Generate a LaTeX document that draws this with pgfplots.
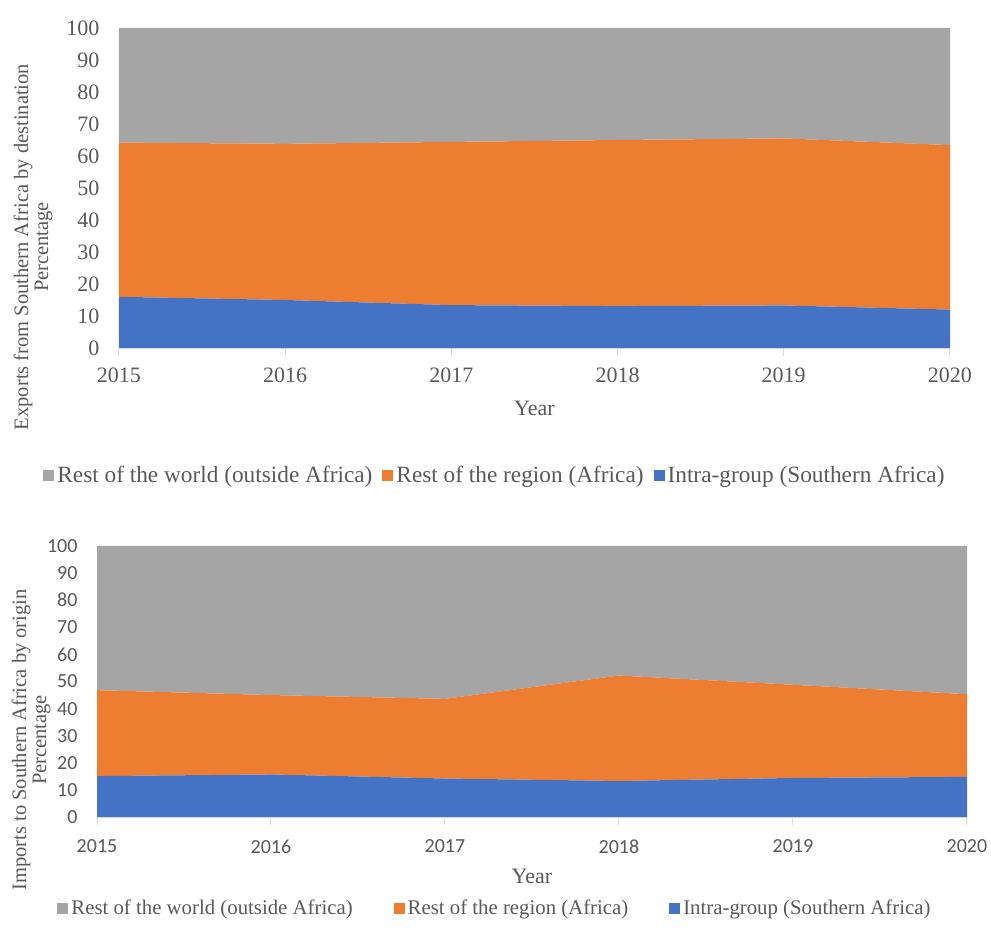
\documentclass[border=0pt]{standalone}
\usepackage{fontspec}
\setmainfont{Liberation Serif}
\newfontfamily\calibri{Carlito}
\usepackage{pgfplots}
\pgfplotsset{compat=1.18}
\usepackage{pgfplotstable}

\definecolor{txt}{HTML}{595959}
\definecolor{axl}{HTML}{D9D9D9}
\definecolor{cblue}{HTML}{4472C4}
\definecolor{corange}{HTML}{ED7D31}
\definecolor{cgrey}{HTML}{A5A5A5}

% Shares of exports by destination (percent)
\pgfplotstableread{
year intra region world
2015 16.0 48.2 35.8
2016 15.0 48.8 36.2
2017 13.4 51.0 35.6
2018 13.1 51.9 35.0
2019 13.3 52.2 34.5
2020 12.0 51.4 36.6
}\exports

% Shares of imports by origin (percent)
\pgfplotstableread{
year intra region world
2015 15.1 31.7 53.2
2016 15.7 29.3 55.0
2017 14.2 29.4 56.4
2018 13.3 38.9 47.8
2019 14.4 34.4 51.2
2020 14.8 30.5 54.7
}\imports

\pgfplotsset{
  sharearea/.style={
    scale only axis,
    stack plots=y,
    xmin=2015, xmax=2020, ymin=0, ymax=100,
    xtick={2015,...,2020},
    ytick={0,10,...,100},
    axis x line*=bottom, axis y line*=left,
    y axis line style={draw=none},
    x axis line style={draw=axl, line width=1.3pt},
    xtick style={draw=axl, line width=1pt},
    ytick style={draw=none},
    xtick align=outside,
    major tick length=8pt,
    tick label style={text=txt},
    /pgf/number format/1000 sep={},
    /pgf/number format/assume math mode=true,
    xlabel style={at={(rel axis cs:0.5,0)}, anchor=center, text=txt,
      font=\fontsize{22}{24}\selectfont},
    reverse legend,
    legend columns=3,
    legend cell align=left,
    legend image code/.code={\fill[##1] (0pt,-5.5pt) rectangle (11pt,5.5pt);},
    legend style={draw=none, fill=none, text=txt, anchor=center,
      nodes={inner xsep=3pt}},
  },
}

\begin{document}
\begin{tikzpicture}
\path[use as bounding box] (0,0) rectangle (991pt,945pt);

\begin{axis}[sharearea,
  at={(119pt,597pt)}, anchor=south west,
  width=831pt, height=320pt,
  tick label style={font=\fontsize{22}{24}\selectfont},
  yticklabel style={xshift=-16pt},
  xticklabel style={yshift=-8pt},
  xlabel={Year}, xlabel style={yshift=-60pt},
  legend style={at={(rel axis cs:0.453,-0.397)},
    font=\fontsize{23.3}{26}\selectfont,
    /tikz/every even column/.append style={column sep=7pt}},
]
\addplot[fill=cblue, draw=none] table[x=year, y=intra] {\exports} \closedcycle;
\addlegendentry{Intra-group (Southern Africa)}
\addplot[fill=corange, draw=none] table[x=year, y=region] {\exports} \closedcycle;
\addlegendentry{Rest of the region (Africa)}
\addplot[fill=cgrey, draw=none] table[x=year, y=world] {\exports} \closedcycle;
\addlegendentry{Rest of the world (outside Africa)}
\end{axis}

\node[rotate=90, align=center, text=txt, font=\fontsize{20.5}{20}\selectfont]
  at (33pt,698pt) {Exports from Southern Africa by destination\\Percentage};

\begin{axis}[sharearea,
  at={(97pt,128pt)}, anchor=south west,
  width=870pt, height=271pt,
  tick label style={font=\calibri\fontsize{20}{24}\selectfont},
  yticklabel style={xshift=-16pt},
  xticklabel style={yshift=-11pt},
  xlabel={Year}, xlabel style={yshift=-59pt},
  legend style={at={(rel axis cs:0.458,-0.336)},
    font=\fontsize{20.8}{24}\selectfont,
    /tikz/every even column/.append style={column sep=38pt}},
]
\addplot[fill=cblue, draw=none] table[x=year, y=intra] {\imports} \closedcycle;
\addlegendentry{Intra-group (Southern Africa)}
\addplot[fill=corange, draw=none] table[x=year, y=region] {\imports} \closedcycle;
\addlegendentry{Rest of the region (Africa)}
\addplot[fill=cgrey, draw=none] table[x=year, y=world] {\imports} \closedcycle;
\addlegendentry{Rest of the world (outside Africa)}
\end{axis}

\node[rotate=90, align=center, text=txt, font=\fontsize{20.5}{20}\selectfont]
  at (31pt,205pt) {Imports to Southern Africa by origin\\Percentage};
\end{tikzpicture}
\end{document}
